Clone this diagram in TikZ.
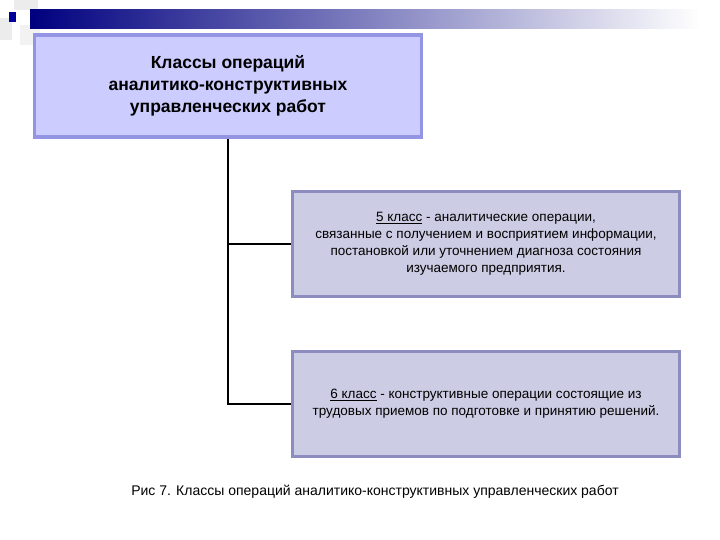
\documentclass[tikz,border=0pt]{standalone}
\usepackage{fontspec}
\setmainfont{Liberation Sans}
\begin{document}
\begin{tikzpicture}[x=1pt,y=-1pt,
  topbox/.style={draw=blue!40!white!80!gray, fill=blue!20, line width=3.5pt, minimum width=387pt, minimum height=102pt, align=center, font=\bfseries\fontsize{17.5}{22}\selectfont},
  classbox/.style={draw={rgb,255:red,140;green,140;blue,190}, fill={rgb,255:red,204;green,204;blue,228}, line width=3.5pt, minimum width=387pt, minimum height=105pt, align=center, font=\fontsize{13.5}{17}\selectfont},
  conn/.style={line width=1.4pt}]
\useasboundingbox (0,0) rectangle (720,540);
\fill[gray!15] (14,0) rectangle (38,10);
\fill[gray!15] (0,18) rectangle (12,40);
\fill[gray!10] (20,25) rectangle (40,45);
\shade[left color=blue!50!black, right color=white] (30,10) rectangle (700,29);
\fill[blue!60!black] (9,12) rectangle (16,22);
\node[topbox] (top) at (228,86) {Классы операций\\аналитико-конструктивных\\управленческих работ};
\node[classbox] (c5) at (486,244) {\underline{5 класс} - аналитические операции,\\связанные с получением и восприятием информации,\\постановкой или уточнением диагноза состояния\\изучаемого предприятия.};
\node[classbox] (c6) at (486,404) {\underline{6 класс} - конструктивные операции состоящие из\\трудовых приемов по подготовке и принятию решений.};
\coordinate (j5) at (228,244);
\coordinate (j6) at (228,404);
\draw[conn] (top.south -| j5) -- (j6) -- (c6.west);
\draw[conn] (j5) -- (c5.west);
\node[font=\fontsize{14}{16}\selectfont] (cap) at (375,492) {Рис 7. Классы операций аналитико-конструктивных  управленческих работ};
\end{tikzpicture}
\end{document}
